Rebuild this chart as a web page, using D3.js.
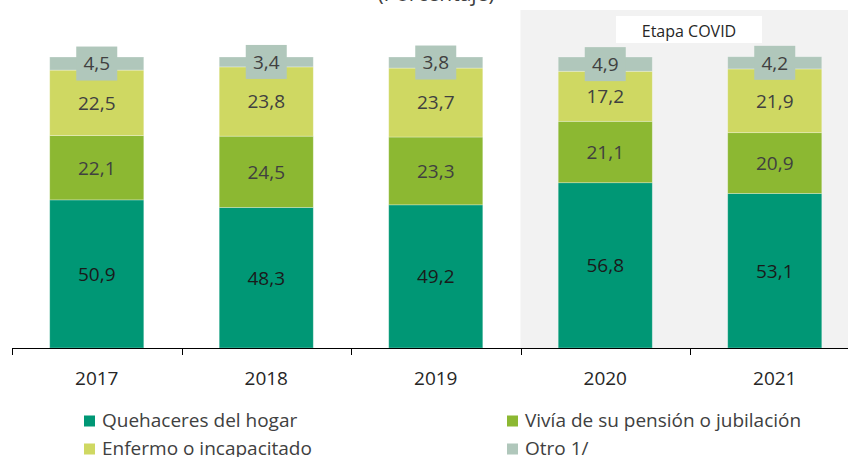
<!DOCTYPE html>
<html>
<head>
<meta charset="utf-8">
<script src="https://cdn.jsdelivr.net/npm/d3@7"></script>
<style>
  body { margin: 0; background: #fff; }
  text { font-family: "Open Sans", sans-serif; }
</style>
</head>
<body>
<script>
// data
var years = ["2017", "2018", "2019", "2020", "2021"];
var quehaceres = [50.9, 48.3, 49.2, 56.8, 53.1];
var pension = [22.1, 24.5, 23.3, 21.1, 20.9];
var enfermo = [22.5, 23.8, 23.7, 17.2, 21.9];
var otro = [4.5, 3.4, 3.8, 4.9, 4.2];
var seriesNames = ["Quehaceres del hogar", "Vivía de su pensión o jubilación", "Enfermo o incapacitado", "Otro 1/"];
var colors = ["#009775", "#8cb832", "#cfd862", "#b0c7bb"];
var covidFrom = "2020";

var W = 848, H = 457;
var svg = d3.select("body").append("svg")
    .attr("width", W)
    .attr("height", H);

var x = d3.scaleBand()
    .domain(years)
    .range([12, 859.5])
    .paddingInner(0.445)
    .paddingOuter(0.2225);

var step = x.step();
var gap = (step - x.bandwidth()) / 2;

var y = d3.scaleLinear()
    .domain([0, 100])
    .range([348, 57]);

// COVID background
var covidX = x(covidFrom) - gap;
svg.append("rect")
    .attr("x", covidX)
    .attr("y", 10)
    .attr("width", W - covidX)
    .attr("height", 338)
    .attr("fill", "#f2f2f2");

svg.append("rect")
    .attr("x", 616)
    .attr("y", 16)
    .attr("width", 146)
    .attr("height", 27)
    .attr("fill", "#fff");
svg.append("text")
    .attr("x", 689)
    .attr("y", 37)
    .attr("text-anchor", "middle")
    .attr("font-size", "16px")
    .attr("fill", "#262626")
    .text("Etapa COVID");

// title (cut at the top)
svg.append("text")
    .attr("x", 436)
    .attr("y", 1)
    .attr("text-anchor", "middle")
    .attr("font-size", "21px")
    .attr("fill", "#404040")
    .text("(Porcentaje)");

// stack
var rows = years.map(function (yr, i) {
    return { year: yr, s0: quehaceres[i], s1: pension[i], s2: enfermo[i], s3: otro[i] };
});
var stack = d3.stack().keys(["s0", "s1", "s2", "s3"]);
var layers = stack(rows);

var groups = svg.selectAll(".layer")
    .data(layers)
    .enter().append("g")
    .attr("class", "layer")
    .attr("fill", function (d, i) { return colors[i]; });

groups.selectAll("rect")
    .data(function (d) { return d; })
    .enter().append("rect")
    .attr("x", function (d) { return x(d.data.year); })
    .attr("y", function (d) { return y(d[1]); })
    .attr("width", x.bandwidth())
    .attr("height", function (d) { return y(d[0]) - y(d[1]); })
    .attr("stroke", "rgba(255,255,255,0.35)")
    .attr("stroke-width", 0.8);

// labels
layers.forEach(function (layer, li) {
    layer.forEach(function (d) {
        var cx = x(d.data.year) + x.bandwidth() / 2;
        var cy = (y(d[0]) + y(d[1])) / 2;
        var v = d[1] - d[0];
        if (li === 3) {
            svg.append("rect")
                .attr("x", cx - 20.5)
                .attr("y", cy - 17)
                .attr("width", 41)
                .attr("height", 34)
                .attr("fill", colors[3]);
        }
        svg.append("text")
            .attr("x", cx)
            .attr("y", cy)
            .attr("dy", "0.36em")
            .attr("text-anchor", "middle")
            .attr("font-size", "19px")
            .attr("fill", li === 0 ? "#1a1a1a" : "#404040")
            .text(d3.format(".1f")(v).replace(".", ","));
    });
});

// x axis
var axisG = svg.append("g");
axisG.append("line")
    .attr("x1", 12).attr("x2", W)
    .attr("y1", 348.5).attr("y2", 348.5)
    .attr("stroke", "#000");
years.forEach(function (yr) {
    var tx = Math.round(x(yr) - gap) + 0.5;
    axisG.append("line")
        .attr("x1", tx).attr("x2", tx)
        .attr("y1", 348).attr("y2", 355)
        .attr("stroke", "#000");
    axisG.append("text")
        .attr("x", x(yr) + x.bandwidth() / 2)
        .attr("y", 385)
        .attr("text-anchor", "middle")
        .attr("font-size", "19px")
        .attr("fill", "#262626")
        .text(yr);
});

// legend
var legendPos = [[84, 427], [507, 427], [84, 455], [507, 455]];
seriesNames.forEach(function (name, i) {
    var p = legendPos[i];
    svg.append("rect")
        .attr("x", p[0]).attr("y", p[1] - 11.5)
        .attr("width", 11).attr("height", 11)
        .attr("fill", colors[i]);
    svg.append("text")
        .attr("x", p[0] + 18)
        .attr("y", p[1])
        .attr("font-size", "19px")
        .attr("fill", "#404040")
        .text(name);
});
</script>
</body>
</html>
